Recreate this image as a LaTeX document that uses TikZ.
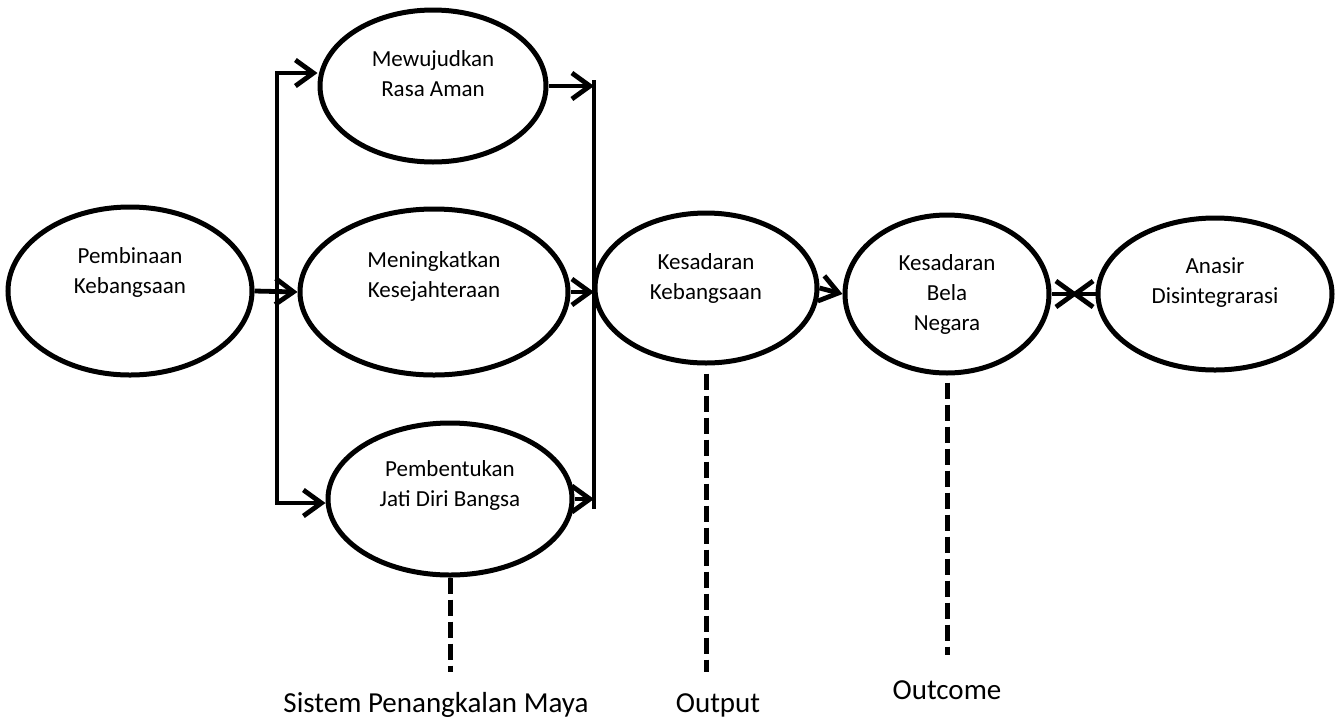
\documentclass[tikz,border=0pt]{standalone}
\usepackage{fontspec}
\setmainfont{Carlito}
\usetikzlibrary{shapes.geometric,arrows.meta}

\begin{document}
\begin{tikzpicture}[x=0.5pt,y=-0.5pt,
	oval/.style={ellipse,draw,line width=2.5pt,inner sep=0pt},
	txt/.style={align=center,font=\fontsize{11.5}{15}\selectfont},
	link/.style={line width=2.4pt},
	arr/.style={link,-{Straight Barb[length=9pt,width=13pt]}},
	tail/.style={line width=2.5pt,dash pattern=on 8pt off 3pt},
	foot/.style={font=\fontsize{14.5}{17}\selectfont}]
\useasboundingbox (0,0) rectangle (1340,719);

% the ovals
\node[oval,minimum width=122pt,minimum height=84pt,
	label={[txt,yshift=9.5pt]center:Pembinaan\\Kebangsaan}] (pemb) at (130,291) {};
\node[oval,minimum width=113pt,minimum height=76pt,
	label={[txt,yshift=6pt]center:Mewujudkan\\Rasa Aman}] (aman) at (433,86) {};
\node[oval,minimum width=134pt,minimum height=83pt,
	label={[txt,yshift=8pt]center:Meningkatkan\\Kesejahteraan}] (sejah) at (434,292) {};
\node[oval,minimum width=122pt,minimum height=76pt,
	label={[txt,yshift=7pt]center:Pembentukan\\Jati Diri Bangsa}] (jati) at (450,499) {};
\node[oval,minimum width=111pt,minimum height=75pt,
	label={[txt,yshift=5pt]center:Kesadaran\\Kebangsaan}] (kesad) at (706,288) {};
\node[oval,minimum width=102pt,minimum height=79pt,
	label={[txt]center:Kesadaran\\Bela\\Negara}] (bela) at (947,294) {};
\node[oval,minimum width=117pt,minimum height=76pt,
	label={[txt,yshift=5.5pt]center:Anasir\\Disintegrarasi}] (anasir) at (1215,294) {};

% captions
\node[foot] (spm) at (436,705) {Sistem Penangkalan Maya};
\node[foot] (outp) at (718,705) {Output};
\node[foot] (outc) at (947,690) {Outcome};

\coordinate (ltop) at (277,73);
\coordinate (lbot) at (277,503);
\coordinate (rtop) at (594,80);
\coordinate (rbot) at (594,509);
\coordinate (xa) at (1078,294);
\coordinate (xb) at (1071,294);
\coordinate (t1) at (450,672);
\coordinate (t2) at (706,672);
\coordinate (t3) at (947,655);

% branches
\draw[arr] (pemb.east) -- (sejah.west);
\draw[arr] (lbot) -- (ltop) -- (ltop -| aman.west);
\draw[arr] (ltop) -- (lbot) -- (lbot -| jati.west);
\draw[link] (rtop) -- (rbot);
\draw[arr] (aman.east) -- (aman.east -| rtop);
\draw[arr] (sejah.east) -- (sejah.east -| rtop);
\draw[arr] (jati.east) -- (jati.east -| rbot);
\draw[arr] (kesad.east) -- (bela.west);
\draw[arr] (bela.east) -- (xa);
\draw[arr] (anasir.west) -- (xb);

% dashed drops
\draw[tail] (jati.south) -- (t1);
\draw[tail] ([yshift=-4pt]kesad.south) -- (t2);
\draw[tail] ([yshift=-3.5pt]bela.south) -- (t3);
\end{tikzpicture}
\end{document}
